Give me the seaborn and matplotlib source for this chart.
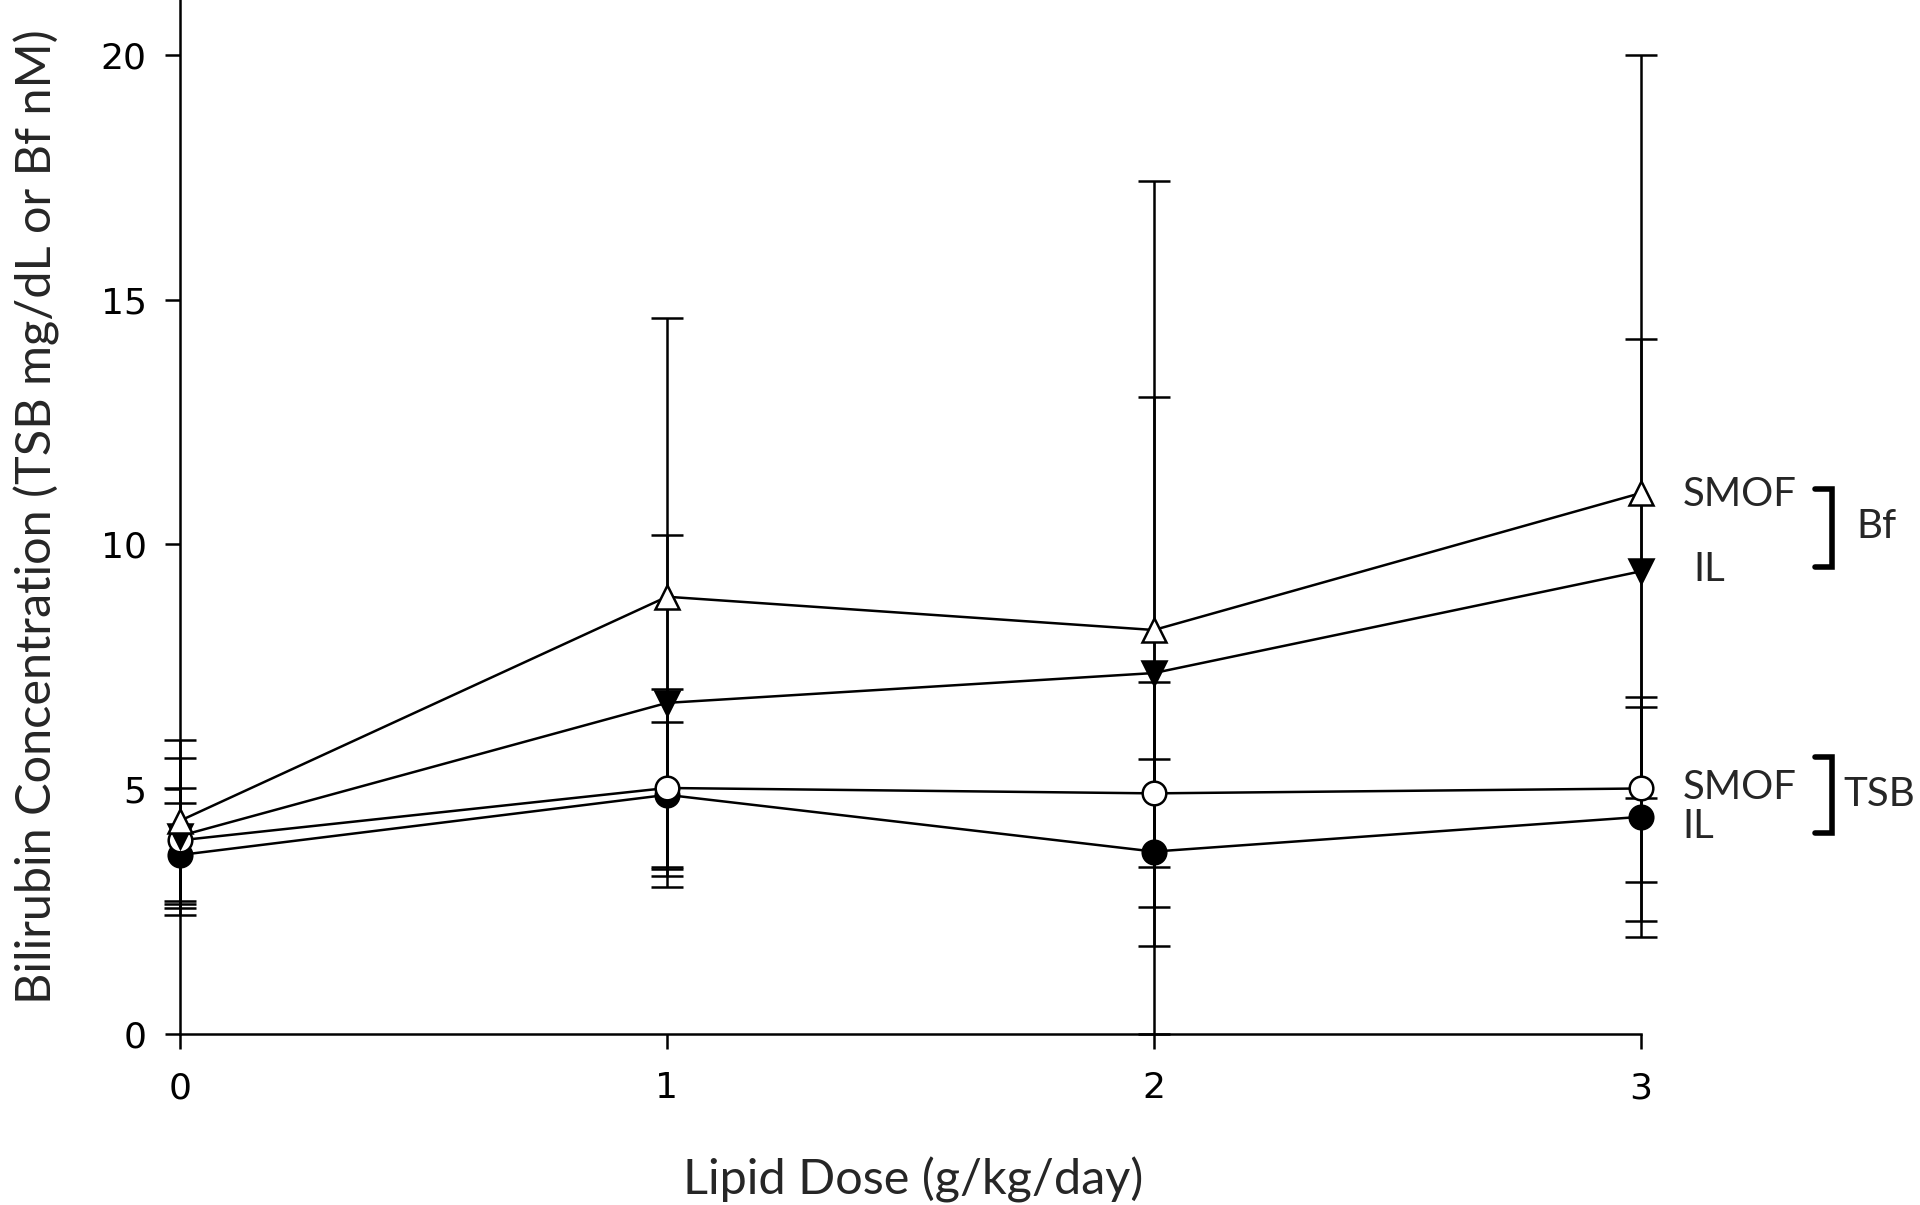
import numpy as np
import pandas as pd
import matplotlib
matplotlib.use("Agg")
import matplotlib.pyplot as plt
import seaborn as sns

sns.set_style("ticks")
plt.rcParams['font.family'] = ['DejaVu Sans']

# lipid dose (g/kg/day)
doses = [0, 1, 2, 3]

# Bf (nM)
smof_bf = [4.35, 8.93, 8.25, 11.05]
smof_bf_lo = [1.65, 5.70, 8.25, 9.07]
smof_bf_hi = [1.65, 5.70, 9.17, 8.96]

il_bf = [4.04, 6.76, 7.37, 9.45]
il_bf_lo = [1.62, 3.40, 5.58, 4.64]
il_bf_hi = [1.59, 3.43, 5.65, 4.75]

# TSB (mg/dL)
smof_tsb = [3.95, 5.02, 4.91, 5.01]
smof_tsb_lo = [1.30, 2.03, 2.32, 1.91]
smof_tsb_hi = [1.06, 2.03, 2.27, 1.88]

il_tsb = [3.65, 4.88, 3.72, 4.43]
il_tsb_lo = [1.09, 1.48, 0.31, 2.12]
il_tsb_hi = [1.06, 1.48, 1.89, 2.25]

series = [
    ("IL TSB", il_tsb, il_tsb_lo, il_tsb_hi, "o", "black"),
    ("SMOF TSB", smof_tsb, smof_tsb_lo, smof_tsb_hi, "o", "white"),
    ("IL Bf", il_bf, il_bf_lo, il_bf_hi, "v", "black"),
    ("SMOF Bf", smof_bf, smof_bf_lo, smof_bf_hi, "^", "white"),
]

fig = plt.figure(figsize=(19.2, 12.05), dpi=100)
ax = fig.add_axes([0.09375, 0.1423, 0.7609, 0.8577])

lw = 1.8
for name, vals, lo, hi, m, fc in series:
    eb = ax.errorbar(doses, vals, yerr=[lo, hi], fmt='none', ecolor='black',
                     elinewidth=lw, capsize=11.5, capthick=lw, zorder=1)
    for a in list(eb.lines[1]) + list(eb.lines[2]):
        a.set_clip_on(False)
    sns.lineplot(x=doses, y=vals, ax=ax, color='black', marker=m, markersize=17,
                 markerfacecolor=fc, markeredgecolor='black', markeredgewidth=lw,
                 linewidth=lw, errorbar=None, zorder=3, clip_on=False)

ax.set_xlim(0, 3)
ax.set_ylim(0, 21.13)
ax.set_xticks([0, 1, 2, 3])
ax.set_yticks([0, 5, 10, 15, 20])
sns.despine(ax=ax)
for s in ['left', 'bottom']:
    ax.spines[s].set_linewidth(lw)
    ax.spines[s].set_color('black')
ax.tick_params(axis='both', direction='out', length=11, width=lw, colors='black',
               labelsize=26)
ax.tick_params(axis='x', pad=16)
ax.tick_params(axis='y', pad=13)

axis_font = dict(family=['Lato', 'DejaVu Sans'], size=35)
note_font = dict(family=['Lato', 'DejaVu Sans'], size=29)
ax.set_xlabel("Lipid Dose (g/kg/day)", **axis_font)
ax.set_ylabel("Bilirubin Concentration (TSB mg/dL or Bf nM)", **axis_font)
ax.xaxis.set_label_coords(0.502, -0.1417)
ax.xaxis.label.set_va('center')
ax.yaxis.set_label_coords(-0.0979, 0.4998)
ax.yaxis.label.set_va('center')

# right-hand labels
ax.text(3.086, 11.01, "SMOF", ha='left', va='center', **note_font)
ax.text(3.107, 9.48, "IL", ha='left', va='center', **note_font)
ax.text(3.443, 10.36, "Bf", ha='left', va='center', **note_font)
ax.text(3.086, 5.02, "SMOF", ha='left', va='center', **note_font)
ax.text(3.086, 4.24, "IL", ha='left', va='center', **note_font)
ax.text(3.415, 4.88, "TSB", ha='left', va='center', **note_font)

for top, bot in [(11.14, 9.54), (5.65, 4.10)]:
    ax.plot([3.357, 3.392, 3.392, 3.357], [top, top, bot, bot], color='black',
            lw=4, clip_on=False, solid_joinstyle='miter')

fig.savefig("out.png", dpi=100)
